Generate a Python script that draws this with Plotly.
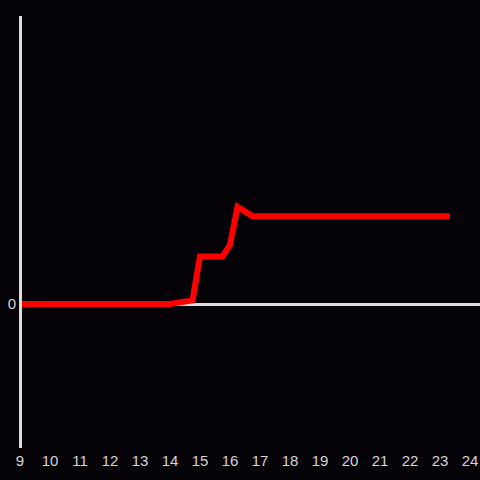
import plotly.graph_objects as go

hours = [9, 14.0, 14.75, 15.0, 15.75, 16.0, 16.25, 16.75, 23.33]
values = [0, 0, 0.025, 0.33, 0.33, 0.41, 0.675, 0.61, 0.61]
x_ticks = list(range(9, 25))
y_ticks = [0]

fig = go.Figure()
fig.add_trace(go.Scatter(
    x=hours, y=values, mode="lines",
    line=dict(color="#ff0000", width=6),
    hoverinfo="skip", showlegend=False,
))

fig.update_layout(
    width=480, height=480,
    margin=dict(l=20, r=0, t=16, b=32),
    paper_bgcolor="#060308", plot_bgcolor="#060308",
    font=dict(family="Liberation Sans, Arial, sans-serif", size=15, color="#d4d4d4"),
    xaxis=dict(range=[9, 24.333], tickvals=x_ticks, showgrid=False, zeroline=False,
               showline=False, ticks="", ticklabelstandoff=2),
    yaxis=dict(range=[-1, 2], tickvals=y_ticks, showgrid=False, zeroline=True,
               zerolinecolor="#dddddd", zerolinewidth=3,
               anchor="free", position=0,
               showline=True, linecolor="#dddddd", linewidth=3, ticks=""),
)

fig.write_html(
    "out.html",
    config={"displayModeBar": False},
    post_script="document.body.style.margin='0';document.body.style.padding='0';"
                "document.body.style.background='#060308';",
)
